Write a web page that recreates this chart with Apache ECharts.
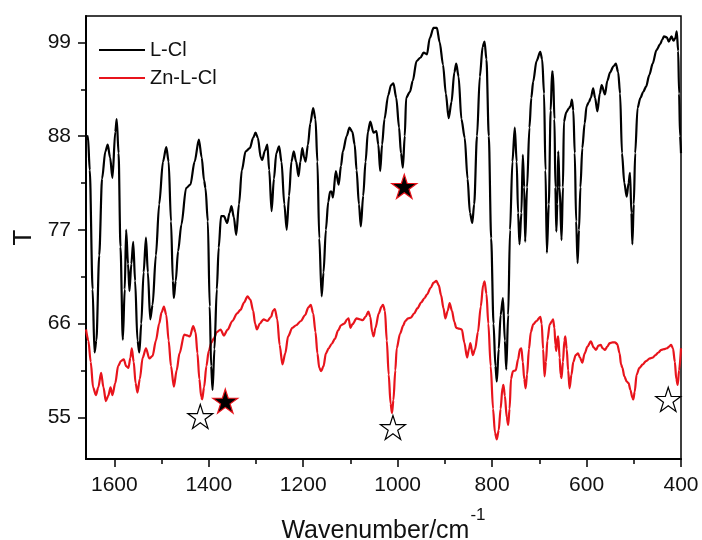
<!DOCTYPE html>
<html>
<head>
<meta charset="utf-8">
<script src="https://cdn.jsdelivr.net/npm/echarts@6/dist/echarts.min.js"></script>
<style>
html,body{margin:0;padding:0;background:#fff;}
#chart{width:702px;height:540px;}
</style>
</head>
<body>
<div id="chart"></div>
<script>
// ---- Data ----
var seriesNames = ['L-Cl', 'Zn-L-Cl'];

var lclWave = [1660,1656,1652,1646,1642,1638,1632,1626,1619,1614,1609,1604,1598,1595,1591,1587,1582,1578,1575,1571,1568,1564,1560,1556,1551,1547,1543,1538,1533,1529,1524,1519,1512,1505,1497,1490,1485,1480,1476,1474,1470,1465,1458,1448,1439,1430,1421,1415,1410,1407,1402,1398,1395,1392,1388,1383,1379,1374,1368,1361,1356,1352,1347,1342,1336,1330,1322,1313,1306,1301,1296,1290,1287,1281,1276,1272,1267,1262,1257,1251,1246,1240,1235,1230,1225,1220,1215,1210,1206,1202,1198,1195,1190,1185,1179,1174,1170,1166,1161,1157,1152,1147,1143,1140,1137,1131,1125,1120,1116,1108,1102,1096,1091,1087,1082,1078,1073,1068,1063,1058,1051,1045,1041,1037,1033,1028,1020,1014,1009,1003,997,993,989,985,982,974,968,960,952,945,938,932,924,917,911,904,898,892,886,880,876,871,865,858,852,847,842,838,832,826,820,816,812,807,802,797,793,790,786,782,777,773,770,766,762,757,752,748,745,742,738,735,732,730,726,721,717,713,706,698,694,690,687,684,680,676,673,671,668,666,664,662,660,657,653,650,648,643,637,634,631,628,625,622,619,616,613,609,604,600,595,591,586,582,577,572,568,561,556,550,543,538,533,529,525,520,515,511,508,505,503,500,497,492,486,480,474,467,460,452,444,440,436,430,426,420,416,412,409,406,404,402,400];
var lclT = [87.6,88.0,84.0,70.0,62.6,64.0,74.0,83.0,86.2,87.0,85.5,83.1,88.5,90.0,86.0,75.0,64.1,70.0,77.0,73.0,69.8,73.0,75.6,71.0,64.0,62.6,66.0,72.0,76.1,72.0,66.5,68.2,74.0,80.0,85.0,86.7,85.0,78.0,71.0,69.0,71.0,74.5,77.6,81.9,82.3,85.0,87.6,85.5,82.8,81.9,78.0,68.0,61.0,58.2,63.0,70.0,74.9,78.6,78.6,77.8,79.0,79.8,78.5,76.4,80.0,84.0,86.2,86.6,87.8,88.4,87.8,85.5,85.2,86.3,87.0,84.0,79.2,83.0,86.0,86.8,85.0,80.0,77.0,81.0,85.0,86.2,85.0,83.3,85.0,86.6,85.5,85.0,87.0,89.5,91.3,90.0,85.0,76.0,69.2,72.0,77.0,80.3,81.5,81.5,80.8,83.9,82.3,84.5,86.2,88.0,89.0,88.5,87.0,84.0,80.0,77.4,81.0,85.0,88.5,89.7,88.4,88.6,87.0,83.9,87.0,90.0,92.8,94.0,94.2,92.5,89.0,86.0,84.3,88.0,92.5,93.2,94.5,96.8,97.2,97.8,97.6,99.5,100.7,100.7,99.0,96.4,93.0,90.1,92.0,95.5,96.5,95.0,90.0,87.8,83.0,79.0,77.8,80.0,88.0,95.0,98.5,99.1,97.0,88.0,76.0,66.0,61.0,59.2,63.0,67.0,69.0,64.0,60.6,67.0,77.0,85.0,89.0,85.0,79.0,75.3,79.0,85.8,82.0,75.6,82.0,89.0,92.5,94.4,96.8,97.9,97.0,93.0,84.0,74.3,80.0,91.0,95.6,95.4,90.0,82.0,76.8,80.0,86.2,82.0,75.8,82.0,89.7,90.8,91.3,91.5,92.3,91.0,86.0,78.0,73.1,77.0,82.0,86.6,89.5,91.5,92.0,92.5,93.6,92.5,90.9,93.0,94.0,92.9,94.5,95.5,96.2,96.5,95.5,93.0,86.0,82.5,80.9,82.5,83.7,79.0,75.3,80.0,86.0,91.3,92.5,93.2,93.8,95.2,96.5,98.1,98.8,99.3,99.7,99.6,99.1,99.7,99.2,99.5,100.3,98.0,93.0,88.0,86.0];

var znWave = [1660,1655,1650,1645,1639,1634,1628,1623,1618,1613,1608,1604,1598,1592,1586,1580,1575,1570,1566,1563,1559,1555,1551,1546,1540,1533,1526,1519,1512,1505,1500,1495,1490,1485,1480,1474,1468,1462,1452,1446,1440,1433,1428,1424,1420,1416,1414,1410,1405,1400,1394,1389,1383,1375,1368,1360,1350,1340,1333,1325,1318,1312,1306,1302,1298,1292,1284,1276,1268,1264,1260,1255,1250,1244,1238,1232,1223,1215,1205,1196,1189,1184,1179,1174,1170,1166,1162,1157,1152,1146,1140,1133,1126,1120,1113,1107,1104,1100,1096,1087,1080,1074,1068,1062,1058,1054,1051,1047,1040,1034,1031,1027,1023,1019,1015,1012,1009,1005,1002,995,988,984,978,972,965,958,950,943,938,930,924,918,913,908,903,899,894,890,885,880,876,870,864,859,853,849,846,841,836,830,824,819,816,812,808,803,798,794,790,786,782,778,776,773,769,766,763,760,756,750,745,741,738,735,732,729,726,722,718,713,706,698,695,692,689,686,683,678,673,671,668,666,664,662,660,657,655,653,650,647,645,642,639,636,632,628,623,618,614,609,604,598,591,585,580,575,570,566,561,556,551,545,540,535,530,527,524,520,515,511,507,503,501,498,494,488,481,474,466,460,454,448,442,436,430,425,421,417,413,410,407,404,400];
var znT = [65.3,64.0,61.5,58.5,57.6,58.5,60.2,58.5,56.9,57.5,58.5,57.6,59.0,61.0,61.6,61.8,61.0,60.8,62.0,63.1,61.5,59.0,57.9,59.5,62.0,63.1,61.9,62.2,64.0,66.0,67.3,68.0,67.0,64.0,61.0,58.6,60.5,62.5,64.7,64.6,64.5,65.7,65.0,62.5,59.5,57.4,57.1,58.5,61.0,62.8,63.8,64.3,65.0,65.3,64.6,65.3,66.3,67.2,67.6,68.5,69.2,68.8,67.5,66.0,65.3,66.0,66.5,66.3,66.8,67.5,67.7,66.5,63.5,61.2,62.5,64.5,65.5,65.8,66.3,67.0,67.9,68.2,67.2,65.0,62.5,60.8,60.4,61.0,62.5,63.1,63.6,64.2,65.2,65.8,66.0,66.5,66.6,65.5,65.9,66.6,66.5,66.4,66.8,67.4,66.8,65.0,64.5,65.5,67.2,68.0,68.2,67.5,64.0,60.0,56.6,55.5,57.0,60.5,63.1,64.8,65.8,66.3,66.6,66.7,67.2,67.8,68.5,69.0,69.4,70.2,70.8,71.0,70.5,69.3,67.8,66.6,67.5,68.4,67.5,66.2,65.5,65.4,65.3,63.8,62.0,63.0,63.7,62.3,63.0,65.0,68.0,70.5,70.95,69.5,66.0,61.0,56.0,53.2,52.4,53.5,56.0,58.5,58.8,57.5,55.0,54.1,56.0,59.5,60.4,60.5,61.8,63.0,63.1,61.5,59.5,58.4,60.0,63.0,65.0,65.9,66.3,66.8,66.0,63.0,59.8,61.5,64.0,65.9,66.3,66.5,65.5,63.5,62.8,64.3,64.5,62.0,60.0,59.6,61.5,64.0,64.5,63.0,60.5,58.4,60.0,61.5,62.3,62.5,62.0,61.4,62.5,63.3,63.9,63.2,62.9,63.4,63.5,63.1,62.9,63.3,63.7,63.8,63.8,63.6,62.5,61.2,60.8,59.8,59.2,59.0,58.2,57.3,57.1,58.0,60.0,60.8,61.2,61.6,61.9,62.0,62.3,62.6,62.9,63.0,63.1,63.3,63.5,63.1,61.5,59.5,58.8,60.5,63.1];

// star annotations
var filledStarWave = [986, 1365];
var filledStarT = [82.1, 56.9];
var hollowStarWave = [1418, 1010, 427];
var hollowStarT = [55.1, 53.8, 57.1];

// axis ticks
var xTickValues = [400, 600, 800, 1000, 1200, 1400, 1600];
var xMinorValues = [500, 700, 900, 1100, 1300, 1500];
var yTickValues = [55, 66, 77, 88, 99];
var yMinorValues = [60.5, 71.5, 82.5, 93.5];

function zip(a, b) { return a.map(function (v, i) { return [v, b[i]]; }); }

var FONT = '"Liberation Sans", Arial, Helvetica, sans-serif';
var starPath = 'path://M50,0L61.2,34.5L97.6,34.5L68.2,55.9L79.4,90.5L50,69.1L20.6,90.5L31.8,55.9L2.4,34.5L38.8,34.5Z';

var chart = echarts.init(document.getElementById('chart'), null, {renderer: 'canvas'});
var xMin = 400, xMax = 1660, yMin = 50.1, yMax = 102.1;
var BLACK = '#000', RED = '#e8141c';

var option = {
  animation: false,
  backgroundColor: '#fff',
  textStyle: {fontFamily: FONT},
  grid: {left: 86, right: 21, top: 16, bottom: 81, show: true, borderColor: '#000', borderWidth: 1.5,
    containLabel: false, outerBoundsMode: 'none'},
  legend: {
    data: [
      {name: seriesNames[0], icon: 'rect', itemStyle: {color: BLACK}},
      {name: seriesNames[1], icon: 'rect', itemStyle: {color: RED}}
    ],
    orient: 'vertical',
    left: 94, top: 35,
    itemWidth: 46, itemHeight: 2, itemGap: 8,
    textStyle: {fontSize: 20, color: '#111', fontFamily: FONT, lineHeight: 20}
  },
  xAxis: [{
    type: 'value', inverse: true, min: xMin, max: xMax,
    name: '{a|Wavenumber/cm}{b|-1}', nameLocation: 'middle', nameGap: 48,
    nameTextStyle: {
      rich: {
        a: {fontSize: 25, color: '#111', fontFamily: FONT, verticalAlign: 'bottom', lineHeight: 30},
        b: {fontSize: 17, color: '#111', fontFamily: FONT, verticalAlign: 'bottom', padding: [0, 0, 20, 1]}
      }
    },
    axisLine: {show: true, lineStyle: {color: '#000', width: 2}},
    axisTick: {show: true, inside: false, length: 8, lineStyle: {color: '#000', width: 1.5}, customValues: xTickValues},
    axisLabel: {fontSize: 21, color: '#111', margin: 16, fontFamily: FONT, customValues: xTickValues,
      formatter: function (v) { return String(Math.round(v)); }},
    splitLine: {show: false}
  }, {
    type: 'value', inverse: true, min: xMin, max: xMax, position: 'bottom',
    axisLine: {show: false},
    axisTick: {show: true, inside: false, length: 5, lineStyle: {color: '#000', width: 1.5}, customValues: xMinorValues},
    axisLabel: {show: false},
    splitLine: {show: false}
  }],
  yAxis: [{
    type: 'value', min: yMin, max: yMax,
    name: 'T', nameLocation: 'middle', nameGap: 43, nameRotate: 90,
    nameTextStyle: {fontSize: 26, color: '#111', fontFamily: FONT},
    axisLine: {show: true, lineStyle: {color: '#000', width: 2}},
    axisTick: {show: true, inside: false, length: 8, lineStyle: {color: '#000', width: 1.5}, customValues: yTickValues},
    axisLabel: {fontSize: 21, color: '#111', margin: 15, fontFamily: FONT, customValues: yTickValues,
      formatter: function (v) { return String(Math.round(v)); }},
    splitLine: {show: false}
  }, {
    type: 'value', min: yMin, max: yMax, position: 'left', offset: 0,
    axisLine: {show: false},
    axisTick: {show: true, inside: false, length: 5, lineStyle: {color: '#000', width: 1.5}, customValues: yMinorValues},
    axisLabel: {show: false},
    splitLine: {show: false}
  }],
  series: [{
    name: seriesNames[0], type: 'line', data: zip(lclWave, lclT),
    showSymbol: false, symbol: 'none', smooth: 0.3, smoothMonotone: 'x',
    lineStyle: {color: BLACK, width: 2.2}, itemStyle: {color: BLACK}, z: 3
  }, {
    name: seriesNames[1], type: 'line', data: zip(znWave, znT),
    showSymbol: false, symbol: 'none', smooth: 0.3, smoothMonotone: 'x',
    lineStyle: {color: RED, width: 2.2}, itemStyle: {color: RED}, z: 2
  }, {
    name: 'filledStars', type: 'scatter', data: zip(filledStarWave, filledStarT),
    symbol: starPath, symbolSize: [25, 24],
    itemStyle: {color: '#000', borderColor: RED, borderWidth: 1.2, opacity: 1}, z: 5, silent: true
  }, {
    name: 'hollowStars', type: 'scatter', data: zip(hollowStarWave, hollowStarT),
    symbol: starPath, symbolSize: [25, 24],
    itemStyle: {color: '#fff', borderColor: '#000', borderWidth: 1.2, opacity: 1}, z: 5, silent: true
  }]
};
chart.setOption(option);
</script>
</body>
</html>
